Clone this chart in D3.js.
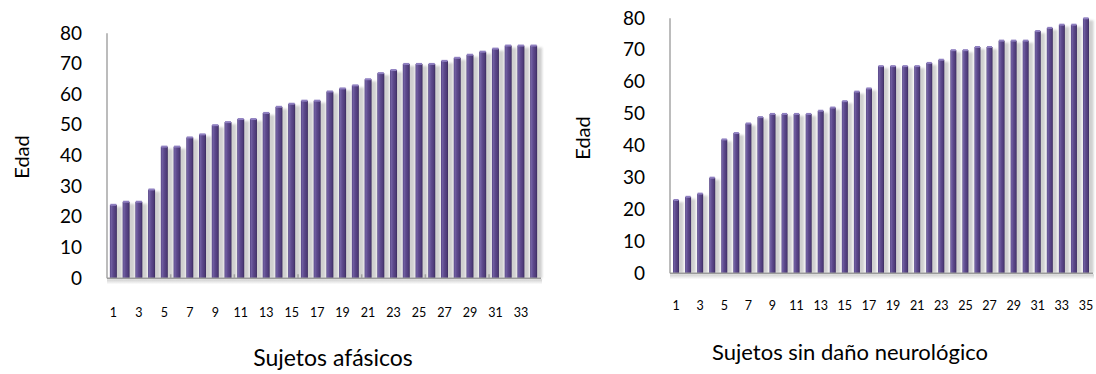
<!DOCTYPE html>
<html>
<head>
<meta charset="utf-8">
<script src="https://cdn.jsdelivr.net/npm/d3@7"></script>
<style>
  html, body { margin: 0; padding: 0; background: #fff; }
  svg { display: block; }
  text { font-family: Lato, "Open Sans", sans-serif; fill: #000; }
</style>
</head>
<body>
<svg id="chart" width="1096" height="374"></svg>
<script>
// ---- data ----
const afasicosSubjects = ["1","2","3","4","5","6","7","8","9","10","11","12","13","14","15","16","17","18","19","20","21","22","23","24","25","26","27","28","29","30","31","32","33","34"];
const afasicosAges = [24,25,25,29,43,43,46,47,50,51,52,52,54,56,57,58,58,61,62,63,65,67,68,70,70,70,71,72,73,74,75,76,76,76];
const afasicosTickLabels = ["1","3","5","7","9","11","13","15","17","19","21","23","25","27","29","31","33"];

const controlSubjects = ["1","2","3","4","5","6","7","8","9","10","11","12","13","14","15","16","17","18","19","20","21","22","23","24","25","26","27","28","29","30","31","32","33","34","35"];
const controlAges = [23,24,25,30,42,44,47,49,50,50,50,50,51,52,54,57,58,65,65,65,65,66,67,70,70,71,71,73,73,73,76,77,78,78,80];
const controlTickLabels = ["1","3","5","7","9","11","13","15","17","19","21","23","25","27","29","31","33","35"];

const yTickValues = [0,10,20,30,40,50,60,70,80];
const yLabel = "Edad";
const titles = ["Sujetos afásicos", "Sujetos sin daño neurológico"];

// ---- drawing ----
const svg = d3.select("#chart");
const defs = svg.append("defs");

const barGrad = defs.append("linearGradient").attr("id", "barGrad")
  .attr("x1", "0").attr("x2", "1").attr("y1", "0").attr("y2", "0");
[["0%", "#4f3d7e"], ["18%", "#7261a3"], ["45%", "#5e4a8d"], ["80%", "#4e3b79"], ["100%", "#3a2a5c"]]
  .forEach(([o, c]) => barGrad.append("stop").attr("offset", o).attr("stop-color", c));

const floorGrad = defs.append("linearGradient").attr("id", "floorGrad")
  .attr("x1", "0").attr("x2", "0").attr("y1", "0").attr("y2", "1");
floorGrad.append("stop").attr("offset", "0%").attr("stop-color", "#cfcfcf");
floorGrad.append("stop").attr("offset", "100%").attr("stop-color", "#ffffff");

const blur = defs.append("filter").attr("id", "shadowBlur")
  .attr("x", "-50%").attr("y", "-10%").attr("width", "200%").attr("height", "120%");
blur.append("feGaussianBlur").attr("stdDeviation", 1.3);

function drawChart(cfg) {
  const g = svg.append("g");
  const x = d3.scaleBand().domain(cfg.categories)
    .range([cfg.x0, cfg.x1]).paddingInner(cfg.pad).paddingOuter(cfg.pad / 2);
  const y = d3.scaleLinear().domain([0, 80]).range([cfg.yBottom, cfg.yTop]);
  const data = cfg.categories.map((c, i) => ({ c, v: cfg.values[i] }));
  const bw = x.bandwidth();

  // floor shadow
  g.append("rect")
    .attr("x", cfg.x0).attr("y", cfg.yBottom + 1)
    .attr("width", cfg.x1 - cfg.x0 + 2).attr("height", 5)
    .attr("fill", "url(#floorGrad)");

  // bar shadows
  g.selectAll(".shadow").data(data).join("rect").attr("class", "shadow")
    .attr("x", d => x(d.c) + bw * 0.5)
    .attr("y", d => y(d.v) + 2)
    .attr("width", bw + 1.5)
    .attr("height", d => cfg.yBottom - y(d.v) - 2)
    .attr("fill", "#c4c4c4")
    .attr("opacity", 0.8)
    .attr("filter", "url(#shadowBlur)");

  // bars
  g.selectAll(".bar").data(data).join("rect").attr("class", "bar")
    .attr("x", d => x(d.c))
    .attr("y", d => y(d.v))
    .attr("width", bw)
    .attr("height", d => cfg.yBottom - y(d.v))
    .attr("fill", "url(#barGrad)");

  // bar caps
  g.selectAll(".cap").data(data).join("rect").attr("class", "cap")
    .attr("x", d => x(d.c) + 0.5)
    .attr("y", d => y(d.v) - 1)
    .attr("width", bw - 1)
    .attr("height", 2)
    .attr("fill", "#8f7fc0");

  // axes lines
  g.append("line")
    .attr("x1", cfg.x0).attr("x2", cfg.x0)
    .attr("y1", y(80)).attr("y2", cfg.yBottom)
    .attr("stroke", "#a6a6a6").attr("stroke-width", 1.5);
  g.append("line")
    .attr("x1", cfg.x0).attr("x2", cfg.x1 + 1)
    .attr("y1", cfg.yBottom).attr("y2", cfg.yBottom)
    .attr("stroke", "#9a9a9a").attr("stroke-width", 1.5);

  // minor category tick stubs
  if (cfg.stubEvery) {
    const step = x.step();
    for (let k = cfg.stubEvery; k < cfg.categories.length; k += cfg.stubEvery) {
      const sx = cfg.x0 + k * step;
      g.append("line").attr("x1", sx).attr("x2", sx)
        .attr("y1", cfg.yBottom - 4).attr("y2", cfg.yBottom)
        .attr("stroke", "#a0a0a0").attr("stroke-width", 1.5);
    }
  }

  // y axis labels
  const yAxis = d3.axisLeft(y).tickValues(yTickValues).tickSize(0).tickPadding(0);
  const ya = g.append("g").attr("transform", `translate(${cfg.yLabelRight},0)`).call(yAxis);
  ya.select(".domain").remove();
  ya.selectAll("text")
    .attr("font-family", "Lato, 'Open Sans', sans-serif")
    .attr("font-size", 19)
    .attr("dy", "0.3em")
    .attr("fill", "#000");

  // x axis labels
  const xAxis = d3.axisBottom(x).tickValues(cfg.tickLabels).tickSize(0).tickPadding(0);
  const xa = g.append("g").attr("transform", `translate(0,${cfg.xLabelY})`).call(xAxis);
  xa.select(".domain").remove();
  xa.selectAll("text")
    .attr("font-family", "Lato, 'Open Sans', sans-serif")
    .attr("font-size", 12.5)
    .attr("dy", "0.35em")
    .attr("fill", "#000");

  // y title
  g.append("text")
    .attr("transform", `translate(${cfg.yTitleX},${cfg.yTitleY}) rotate(-90)`)
    .attr("text-anchor", "middle")
    .attr("dominant-baseline", "central")
    .attr("font-size", 20)
    .text(yLabel);

  // x title
  g.append("text")
    .attr("x", cfg.titleX).attr("y", cfg.titleY)
    .attr("text-anchor", "middle")
    .attr("font-size", cfg.titleSize)
    .text(cfg.title);
}

drawChart({
  categories: afasicosSubjects, values: afasicosAges, tickLabels: afasicosTickLabels,
  x0: 107, x1: 540, yTop: 33.3, yBottom: 278.3, pad: 0.45,
  yLabelRight: 82, xLabelY: 312.5, yTitleX: 21, yTitleY: 157,
  titleX: 333, titleY: 366, titleSize: 23, title: titles[0], stubEvery: 5
});

drawChart({
  categories: controlSubjects, values: controlAges, tickLabels: controlTickLabels,
  x0: 670, x1: 1092, yTop: 18.3, yBottom: 273.3, pad: 0.5,
  yLabelRight: 645, xLabelY: 306, yTitleX: 582, yTitleY: 138,
  titleX: 850, titleY: 360, titleSize: 22, title: titles[1], stubEvery: 0
});
</script>
</body>
</html>
